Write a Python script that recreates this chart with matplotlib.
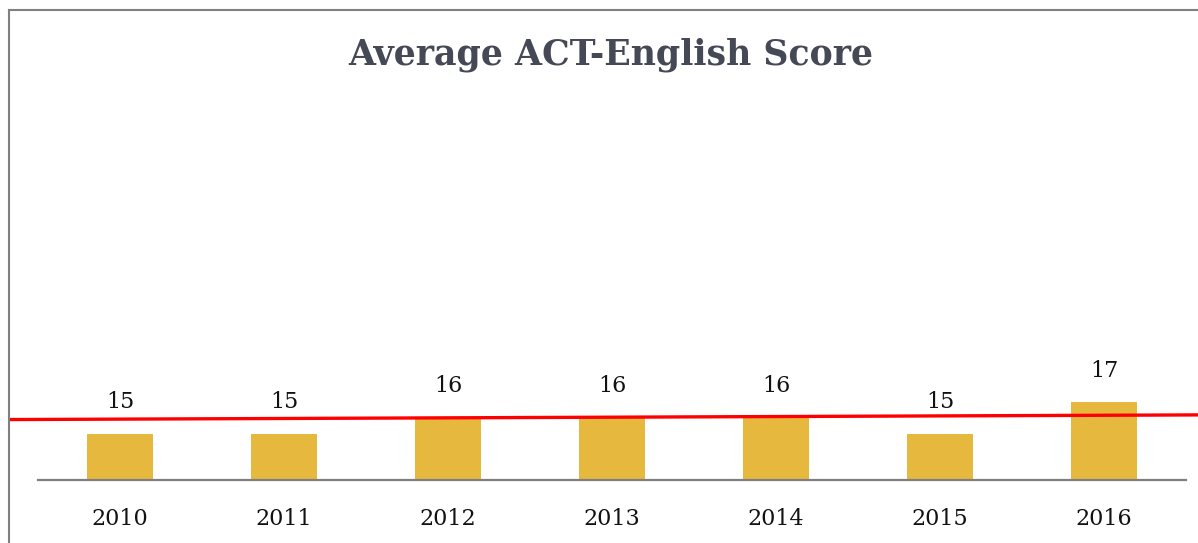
import matplotlib.pyplot as plt
from matplotlib.lines import Line2D

# chart data
years = ['2010', '2011', '2012', '2013', '2014', '2015', '2016']
scores = [15, 15, 16, 16, 16, 15, 17]
# red reference line (start / end value, slightly rising)
ref_x = [-0.67, 6.57]
ref_y = [15.9, 16.2]

W, H = 1198, 543
fig = plt.figure(figsize=(W / 100, H / 100), dpi=100)

# axes area in pixel terms: x 38..1186, y 108..480
ax = fig.add_axes([38 / W, (H - 480) / H, (1186 - 38) / W, (480 - 108) / H])
x = list(range(len(years)))
ax.bar(x, scores, width=0.4, color='#e6b93e', zorder=2)
ax.set_xlim(-0.5, len(years) - 0.5)
ax.set_ylim(12, 36)

for xi, v in zip(x, scores):
    ax.annotate(str(v), (xi, v), xytext=(0, 15), textcoords='offset points',
                ha='center', va='bottom', fontsize=16, family='DejaVu Serif',
                color='#111111')

ax.plot(ref_x, ref_y, color='#ff0000', lw=2.4, clip_on=False, zorder=3)

for s in ['top', 'right', 'left']:
    ax.spines[s].set_visible(False)
ax.spines['bottom'].set_color('#7f7f7f')
ax.spines['bottom'].set_linewidth(1.6)
ax.set_yticks([])
ax.set_xticks(x)
ax.set_xticklabels(years, fontsize=16, family='DejaVu Serif', color='#111111')
ax.tick_params(axis='x', length=0, pad=20)

fig.text(611 / W, 1 - 55 / H, 'Average ACT-English Score', ha='center', va='center',
         fontsize=25, fontweight='bold', family='DejaVu Serif', color='#444955')

# outer frame (cropped at right and bottom)
fig.add_artist(Line2D([9 / W, 9 / W], [0, 1 - 10 / H], transform=fig.transFigure,
                      color='#808080', lw=1.5))
fig.add_artist(Line2D([9 / W, 1], [1 - 10 / H, 1 - 10 / H], transform=fig.transFigure,
                      color='#808080', lw=1.5))

fig.savefig('out.png', dpi=100)
